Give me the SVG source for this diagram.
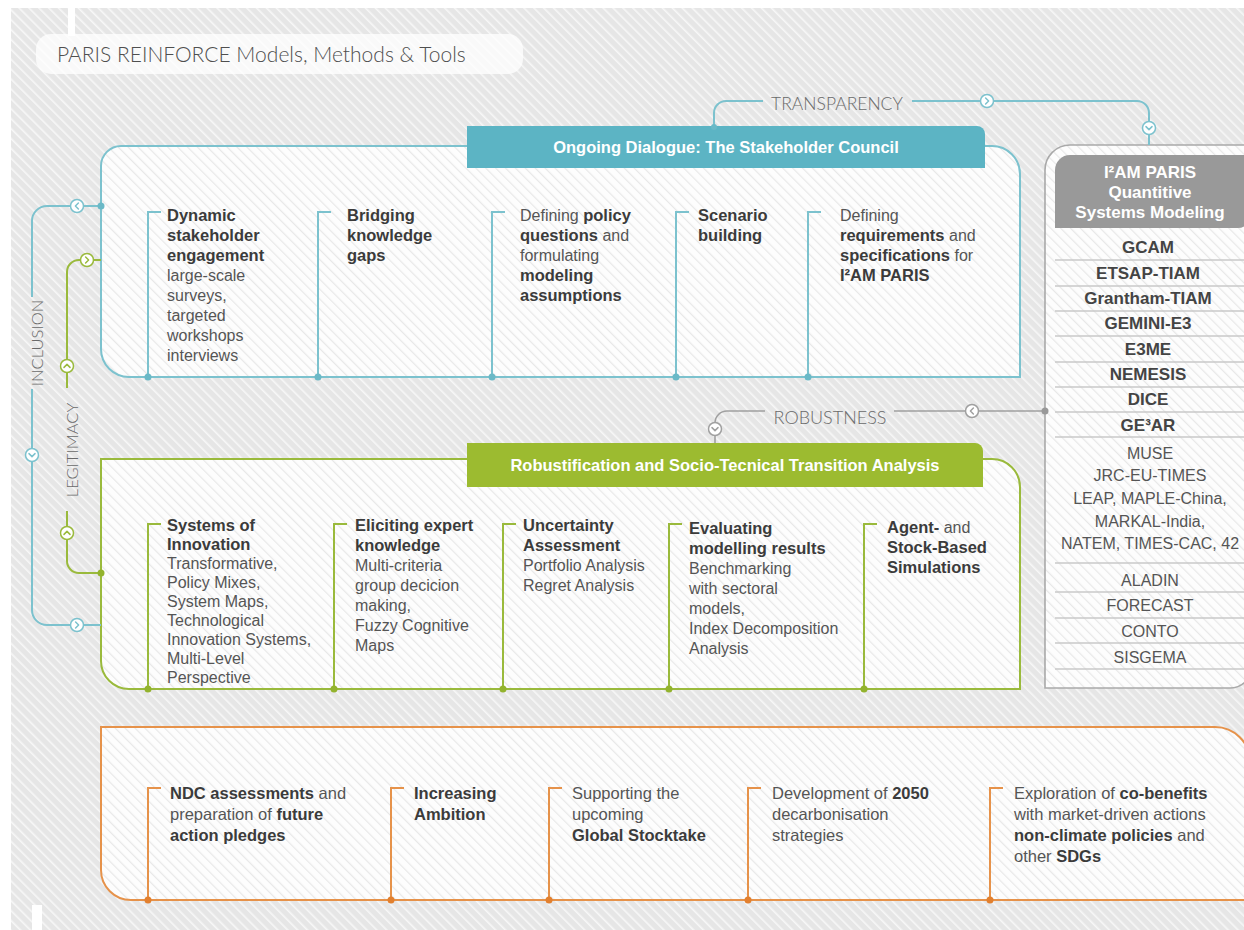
<svg xmlns="http://www.w3.org/2000/svg" width="1244" height="930" viewBox="0 0 1244 930">
<defs>
<pattern id="bg" width="7" height="7" patternUnits="userSpaceOnUse" patternTransform="rotate(-45)"><rect width="7" height="7" fill="#e6e6e6"/><rect width="1.6" height="7" fill="#f7f7f7"/></pattern>
<pattern id="inner" width="7" height="7" patternUnits="userSpaceOnUse" patternTransform="rotate(-45)"><rect width="7" height="7" fill="#fdfdfd"/><rect width="1.2" height="7" fill="#e8e8e8"/></pattern>
<g id="chev"><circle r="6.5" fill="#fff" stroke="currentColor" stroke-width="1.5"/><path d="M-1.4 -3 L1.6 0 L-1.4 3" fill="none" stroke="currentColor" stroke-width="1.5" stroke-linecap="round" stroke-linejoin="round"/></g>
<style>
.t{font-family:"Liberation Sans",Arial,sans-serif;font-size:16px;fill:#555}
.b{font-weight:bold;fill:#3b3b3b;font-size:16.5px}
.o{font-size:16.5px}
.lbl{font-family:Lato,"Liberation Sans",sans-serif;font-weight:300;fill:#6a6a6a}
.hdr{font-family:"Liberation Sans",Arial,sans-serif;font-weight:bold;font-size:16.5px;fill:#fff;text-anchor:middle}
.rb{font-family:"Liberation Sans",Arial,sans-serif;font-weight:bold;font-size:17px;fill:#444;text-anchor:middle}
.rr{font-family:"Liberation Sans",Arial,sans-serif;font-size:16px;fill:#555;text-anchor:middle}
.teal{stroke:#7cc2ce;stroke-width:2;fill:none}
.grn{stroke:#9aba3c;stroke-width:2;fill:none}
.org{stroke:#e6924a;stroke-width:2;fill:none}
.gry{stroke:#a0a0a0;stroke-width:1.6;fill:none}
.box{fill:url(#inner)}
.sep{stroke:#c9c9c9;stroke-width:1.5}
</style>
</defs>
<rect width="1244" height="930" fill="#fff"/>
<rect x="11" y="8" width="1233" height="922" fill="url(#bg)"/>
<rect x="68" y="0" width="7" height="36" fill="#fff"/>
<rect x="32" y="905" width="10" height="25" fill="#fff"/>

<g id="title">
<rect x="36" y="34" width="487" height="40" rx="15" fill="#fff" fill-opacity="0.75"/>
<text x="57" y="62" class="lbl" font-size="21" fill="#505050" style="fill:#4f4f4f">PARIS REINFORCE Models, Methods &amp; Tools</text>
</g>

<g id="stakeholder-council">
<path class="box" d="M121 146 H992 A28 28 0 0 1 1020 174 V377 H129 A28 28 0 0 1 101 349 V166 A20 20 0 0 1 121 146 Z"/>
<path class="teal" d="M121 146 H992 A28 28 0 0 1 1020 174 V377 H129 A28 28 0 0 1 101 349 V166 A20 20 0 0 1 121 146 Z"/>
<path d="M467 126 H977 A8 8 0 0 1 985 134 V168 H467 Z" fill="#5cb4c4"/>
<text x="726" y="153" class="hdr">Ongoing Dialogue: The Stakeholder Council</text>
<path class="teal" d="M148 377 V212 H161 M318 377 V212 H331 M492 377 V212 H505 M676 377 V212 H689 M808 377 V212 H821"/>
<g fill="#6bb9c7"><circle cx="148" cy="377" r="3.5"/><circle cx="318" cy="377" r="3.5"/><circle cx="492" cy="377" r="3.5"/><circle cx="676" cy="377" r="3.5"/><circle cx="808" cy="377" r="3.5"/></g>
<text class="t"><tspan x="167" y="221" class="b">Dynamic</tspan><tspan x="167" y="241" class="b">stakeholder</tspan><tspan x="167" y="261" class="b">engagement</tspan><tspan x="167" y="281">large-scale</tspan><tspan x="167" y="301">surveys,</tspan><tspan x="167" y="321">targeted</tspan><tspan x="167" y="341">workshops</tspan><tspan x="167" y="361">interviews</tspan></text>
<text class="t"><tspan x="347" y="221" class="b">Bridging</tspan><tspan x="347" y="241" class="b">knowledge</tspan><tspan x="347" y="261" class="b">gaps</tspan></text>
<text class="t"><tspan x="520" y="221">Defining <tspan class="b">policy</tspan></tspan><tspan x="520" y="241"><tspan class="b">questions</tspan> and</tspan><tspan x="520" y="261">formulating</tspan><tspan x="520" y="281" class="b">modeling</tspan><tspan x="520" y="301" class="b">assumptions</tspan></text>
<text class="t"><tspan x="698" y="221" class="b">Scenario</tspan><tspan x="698" y="241" class="b">building</tspan></text>
<text class="t"><tspan x="840" y="221">Defining</tspan><tspan x="840" y="241"><tspan class="b">requirements</tspan> and</tspan><tspan x="840" y="261"><tspan class="b">specifications</tspan> for</tspan><tspan x="840" y="281" class="b">I²AM PARIS</tspan></text>
</g>

<g id="robustification">
<path class="box" d="M101 459 H992 A28 28 0 0 1 1020 487 V689 H129 A28 28 0 0 1 101 661 Z"/>
<path class="grn" d="M101 459 H992 A28 28 0 0 1 1020 487 V689 H129 A28 28 0 0 1 101 661 Z"/>
<path d="M467 443 H975 A8 8 0 0 1 983 451 V487 H467 Z" fill="#9cbb30"/>
<text x="725" y="471" class="hdr">Robustification and Socio-Tecnical Transition Analysis</text>
<path class="grn" d="M148 689 V524 H161 M334 689 V524 H347 M503 689 V524 H516 M669 689 V524 H682 M864 689 V524 H877"/>
<g fill="#93b32e"><circle cx="148" cy="689" r="3.5"/><circle cx="334" cy="689" r="3.5"/><circle cx="503" cy="689" r="3.5"/><circle cx="669" cy="689" r="3.5"/><circle cx="864" cy="689" r="3.5"/></g>
<text class="t"><tspan x="167" y="531" class="b">Systems of</tspan><tspan x="167" y="550" class="b">Innovation</tspan><tspan x="167" y="569">Transformative,</tspan><tspan x="167" y="588">Policy Mixes,</tspan><tspan x="167" y="607">System Maps,</tspan><tspan x="167" y="626">Technological</tspan><tspan x="167" y="645">Innovation Systems,</tspan><tspan x="167" y="664">Multi-Level</tspan><tspan x="167" y="683">Perspective</tspan></text>
<text class="t"><tspan x="355" y="531" class="b">Eliciting expert</tspan><tspan x="355" y="551" class="b">knowledge</tspan><tspan x="355" y="571">Multi-criteria</tspan><tspan x="355" y="591">group decicion</tspan><tspan x="355" y="611">making,</tspan><tspan x="355" y="631">Fuzzy Cognitive</tspan><tspan x="355" y="651">Maps</tspan></text>
<text class="t"><tspan x="523" y="531" class="b">Uncertainty</tspan><tspan x="523" y="551" class="b">Assessment</tspan><tspan x="523" y="571">Portfolio Analysis</tspan><tspan x="523" y="591">Regret Analysis</tspan></text>
<text class="t"><tspan x="689" y="534" class="b">Evaluating</tspan><tspan x="689" y="554" class="b">modelling results</tspan><tspan x="689" y="574">Benchmarking</tspan><tspan x="689" y="594">with sectoral</tspan><tspan x="689" y="614">models,</tspan><tspan x="689" y="634">Index Decomposition</tspan><tspan x="689" y="654">Analysis</tspan></text>
<text class="t"><tspan x="887" y="533"><tspan class="b">Agent-</tspan> and</tspan><tspan x="887" y="553" class="b">Stock-Based</tspan><tspan x="887" y="573" class="b">Simulations</tspan></text>
</g>

<g id="policy-outcomes">
<path class="box" d="M101 727 H1215 A35 35 0 0 1 1250 762 V900 H131 A30 30 0 0 1 101 870 Z"/>
<path class="org" d="M101 727 H1215 A35 35 0 0 1 1250 762 V900 H131 A30 30 0 0 1 101 870 Z"/>
<path class="org" d="M148 900 V788 H161 M391 900 V788 H404 M549 900 V788 H562 M748 900 V788 H761 M990 900 V788 H1003"/>
<g fill="#e2802f"><circle cx="148" cy="900" r="3.5"/><circle cx="391" cy="900" r="3.5"/><circle cx="549" cy="900" r="3.5"/><circle cx="748" cy="900" r="3.5"/><circle cx="990" cy="900" r="3.5"/></g>
<text class="t o"><tspan x="170" y="799"><tspan class="b">NDC assessments</tspan> and</tspan><tspan x="170" y="820">preparation of <tspan class="b">future</tspan></tspan><tspan x="170" y="841" class="b">action pledges</tspan></text>
<text class="t o"><tspan x="414" y="799" class="b">Increasing</tspan><tspan x="414" y="820" class="b">Ambition</tspan></text>
<text class="t o"><tspan x="572" y="799">Supporting the</tspan><tspan x="572" y="820">upcoming</tspan><tspan x="572" y="841" class="b">Global Stocktake</tspan></text>
<text class="t o"><tspan x="772" y="799">Development of <tspan class="b">2050</tspan></tspan><tspan x="772" y="820">decarbonisation</tspan><tspan x="772" y="841">strategies</tspan></text>
<text class="t o"><tspan x="1014" y="799">Exploration of <tspan class="b">co-benefits</tspan></tspan><tspan x="1014" y="820">with market-driven actions</tspan><tspan x="1014" y="841"><tspan class="b">non-climate policies</tspan> and</tspan><tspan x="1014" y="862">other <tspan class="b">SDGs</tspan></tspan></text>
</g>

<g id="i2am-paris">
<path class="box" d="M1045 170 A25 25 0 0 1 1070 145 H1252 V666 A22 22 0 0 1 1230 688 H1045 Z"/>
<path d="M1045 170 A25 25 0 0 1 1070 145 H1252 V666 A22 22 0 0 1 1230 688 H1045 Z" fill="none" stroke="#a9a9a9" stroke-width="1.6"/>
<path d="M1055 228 V170 A15 15 0 0 1 1070 155 H1250 V216 A12 12 0 0 1 1238 228 Z" fill="#999"/>
<text class="hdr" style="font-size:17px"><tspan x="1150" y="178">I²AM PARIS</tspan><tspan x="1150" y="198">Quantitive</tspan><tspan x="1150" y="218">Systems Modeling</tspan></text>
<path class="sep" d="M1055 260 H1244 M1055 286 H1244 M1055 311 H1244 M1055 336 H1244 M1055 362 H1244 M1055 387 H1244 M1055 412 H1244 M1055 437 H1244 M1055 563 H1244 M1055 592 H1244 M1055 618 H1244 M1055 643 H1244 M1055 669 H1244"/>
<text class="rb" x="1148" y="253">GCAM</text>
<text class="rb" x="1148" y="279">ETSAP-TIAM</text>
<text class="rb" x="1148" y="304">Grantham-TIAM</text>
<text class="rb" x="1148" y="329">GEMINI-E3</text>
<text class="rb" x="1148" y="355">E3ME</text>
<text class="rb" x="1148" y="380">NEMESIS</text>
<text class="rb" x="1148" y="405">DICE</text>
<text class="rb" x="1148" y="431">GE³AR</text>
<text class="rr"><tspan x="1150" y="459">MUSE</tspan><tspan x="1150" y="481">JRC-EU-TIMES</tspan><tspan x="1150" y="504">LEAP, MAPLE-China,</tspan><tspan x="1150" y="527">MARKAL-India,</tspan><tspan x="1150" y="549">NATEM, TIMES-CAC, 42</tspan></text>
<text class="rr" x="1150" y="586">ALADIN</text>
<text class="rr" x="1150" y="611">FORECAST</text>
<text class="rr" x="1150" y="637">CONTO</text>
<text class="rr" x="1150" y="663">SISGEMA</text>
</g>

<g id="connectors">
<g id="transparency" color="#7cc2ce">
<path class="teal" d="M714 127 V113 A12 12 0 0 1 726 101 H763 M912 101 H1137 A12 12 0 0 1 1149 113 V145"/>
<circle cx="714" cy="127" r="3" fill="#6bb9c7"/>
<use href="#chev" transform="translate(987 101)"/>
<use href="#chev" transform="translate(1149 128) rotate(90)"/>
<text x="837" y="110" class="lbl" font-size="17.5" text-anchor="middle">TRANSPARENCY</text>
</g>
<g id="robustness" color="#a0a0a0">
<path class="gry" d="M1045 411 H894 M765 411 H727 A12 12 0 0 0 715 423 V443"/>
<circle cx="1045" cy="411" r="3.5" fill="#999"/>
<use href="#chev" transform="translate(972 411) rotate(180)"/>
<use href="#chev" transform="translate(715 429) rotate(90)"/>
<text x="830" y="424" class="lbl" font-size="18" text-anchor="middle">ROBUSTNESS</text>
</g>
<g id="inclusion" color="#7cc2ce">
<path class="teal" d="M101 206 H47 A15 15 0 0 0 32 221 V297 M32 389 V610 A15 15 0 0 0 47 625 H101"/>
<circle cx="101" cy="206" r="3.5" fill="#6bb9c7"/>
<use href="#chev" transform="translate(77 206) rotate(180)"/>
<use href="#chev" transform="translate(32 455) rotate(90)"/>
<use href="#chev" transform="translate(77 625)"/>
<text transform="translate(43 343) rotate(-90)" class="lbl" font-size="16.5" text-anchor="middle">INCLUSION</text>
</g>
<g id="legitimacy" color="#9aba3c">
<path class="grn" d="M101 260 H79 A12 12 0 0 0 67 272 V388 M67 511 V561 A12 12 0 0 0 79 573 H101"/>
<circle cx="101" cy="573" r="3.5" fill="#93b32e"/>
<use href="#chev" transform="translate(87 260)"/>
<use href="#chev" transform="translate(67 366) rotate(-90)"/>
<use href="#chev" transform="translate(67 533) rotate(-90)"/>
<text transform="translate(78 450) rotate(-90)" class="lbl" font-size="16.5" text-anchor="middle">LEGITIMACY</text>
</g>
</g>
</svg>
